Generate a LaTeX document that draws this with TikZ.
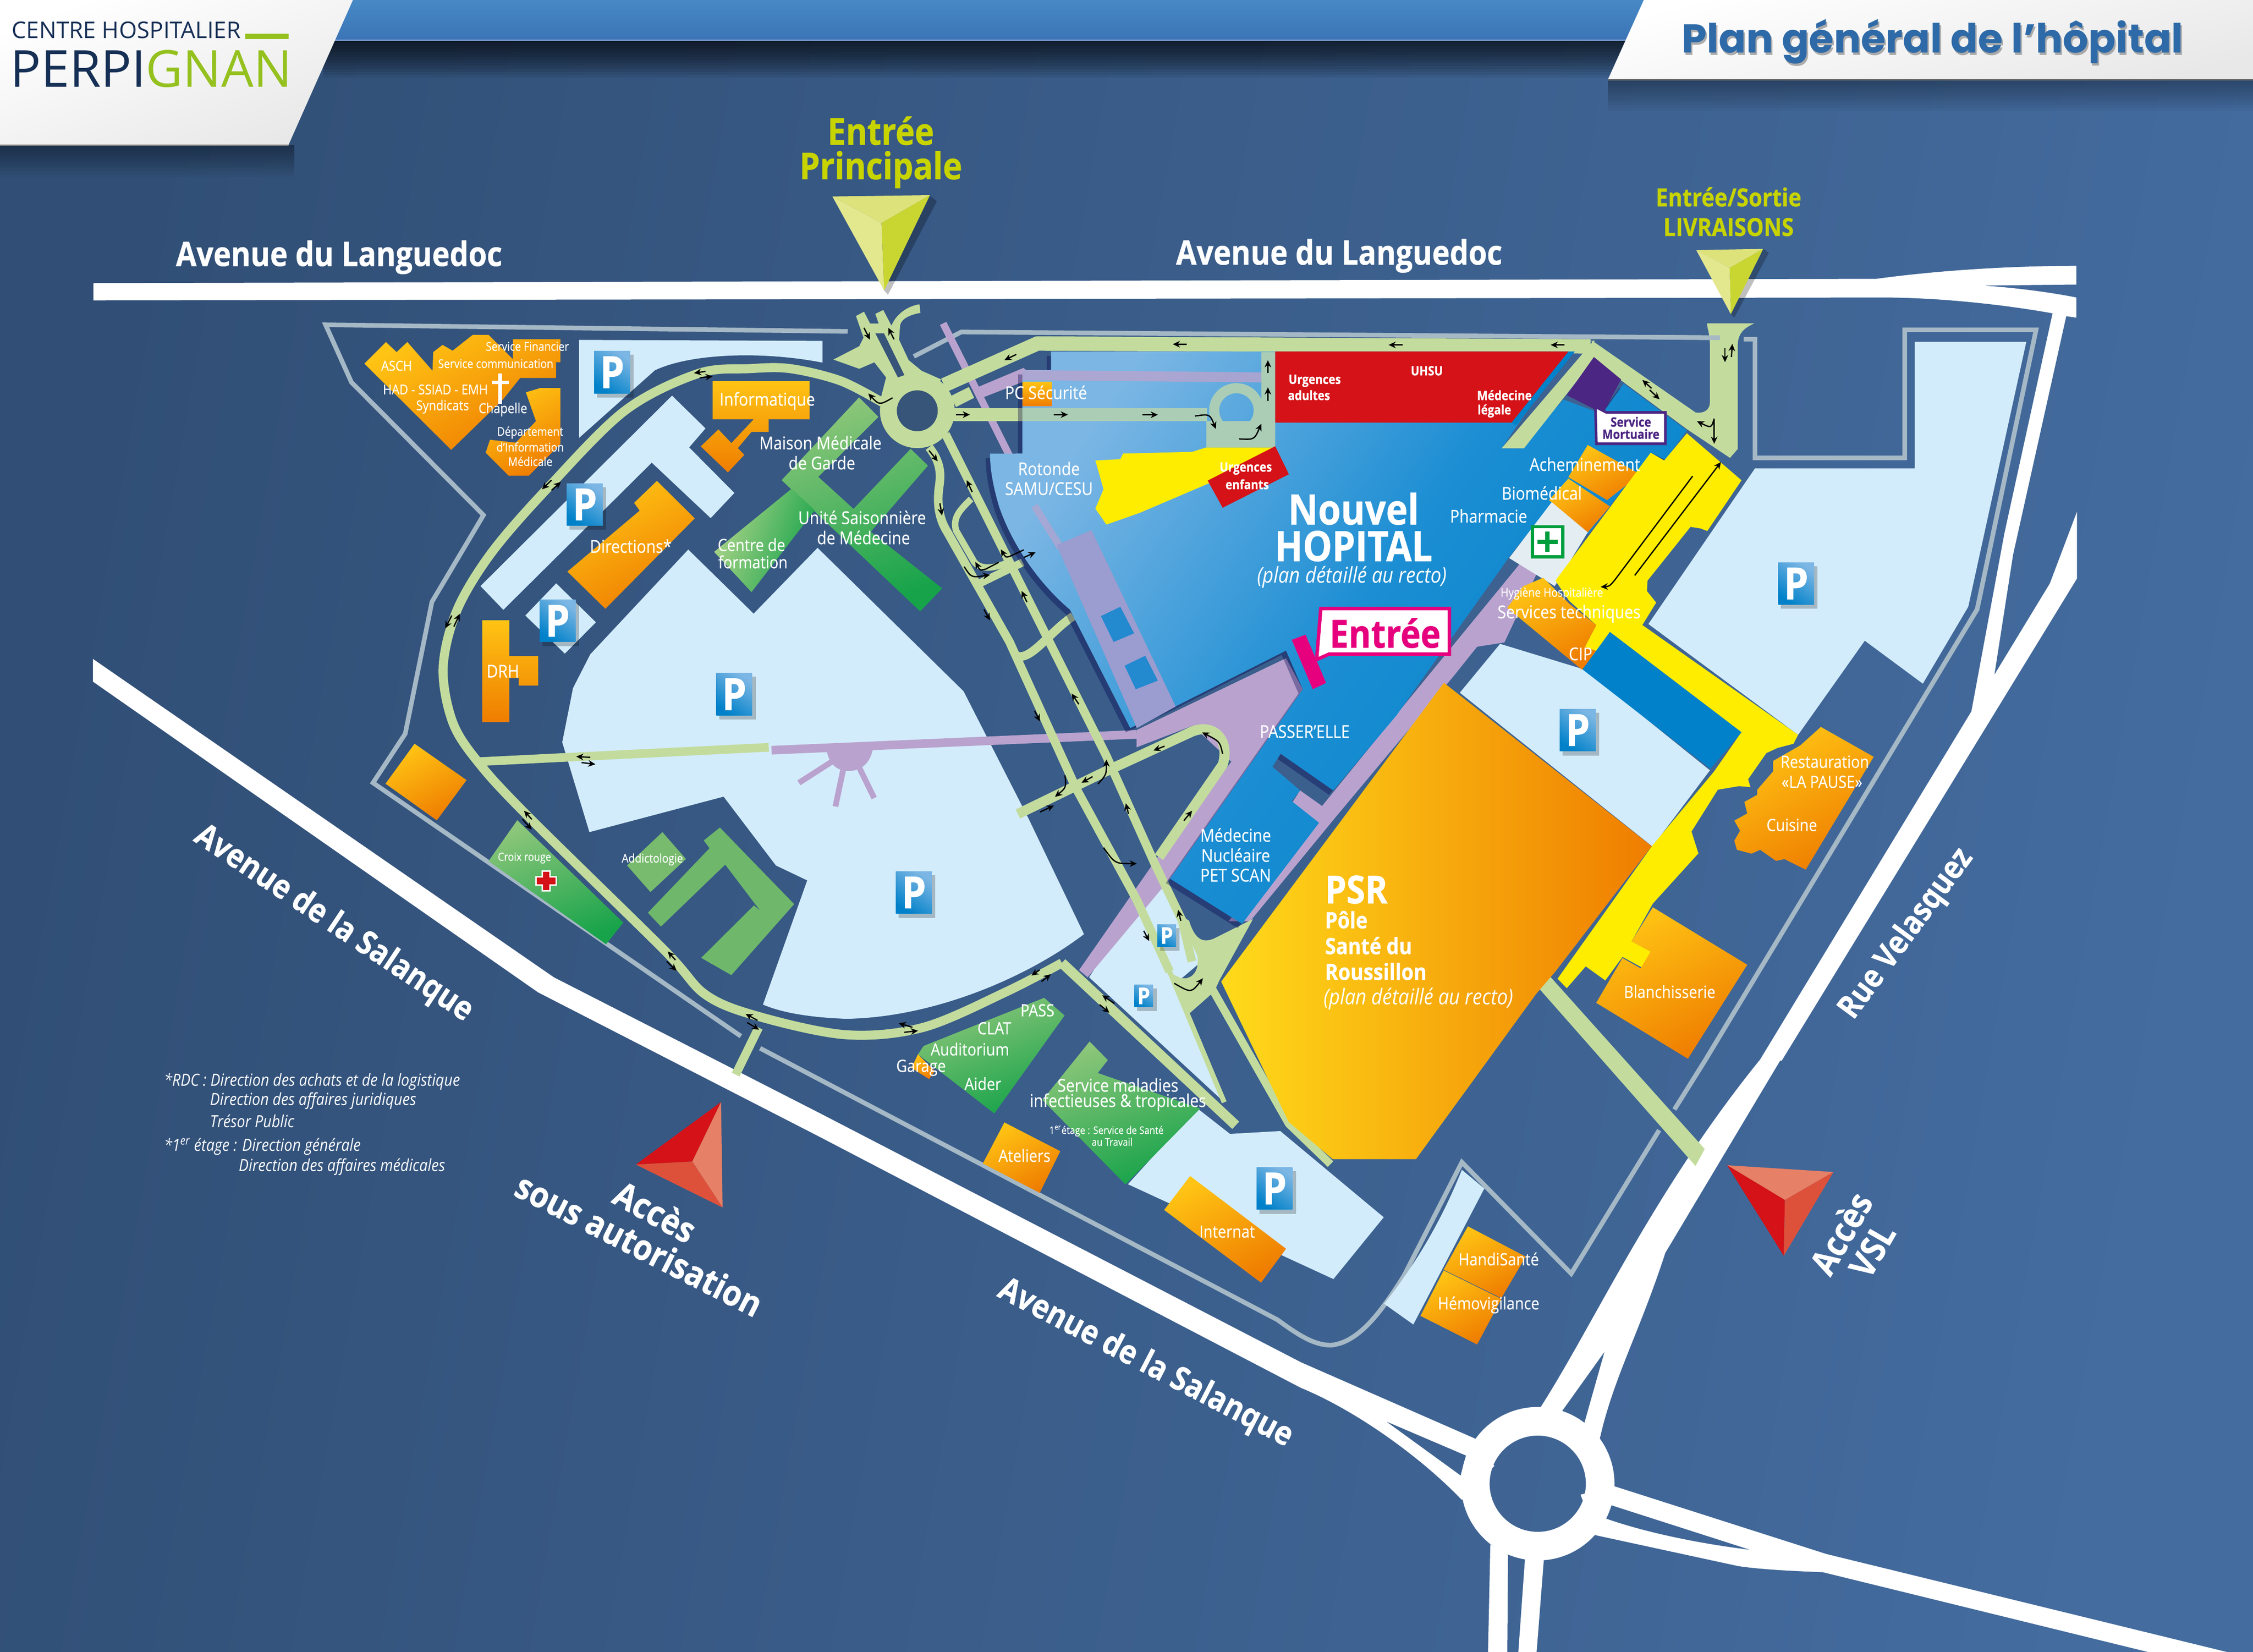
\documentclass[tikz,border=0pt]{standalone}
\usepackage{fontspec}
\setmainfont{Open Sans}[FakeStretch=0.88,UprightFeatures={FakeBold=0.25},BoldFeatures={FakeBold=0.7}]
\newfontfamily\titlefont{Poppins}
\newfontfamily\logofont{Open Sans}
\usetikzlibrary{arrows.meta}
\definecolor{roadg}{HTML}{C3DC9D}
\definecolor{roadh}{HTML}{ABCDB5}
\definecolor{bline}{HTML}{A5B8C5}
\definecolor{park}{HTML}{D3ECFB}
\definecolor{purp}{HTML}{B9A3CE}
\definecolor{orT}{HTML}{FFC414}
\definecolor{orB}{HTML}{EF7D00}
\definecolor{grT}{HTML}{8CC67A}
\definecolor{grB}{HTML}{17A34A}
\definecolor{bluB}{HTML}{0081C9}
\definecolor{bluT}{HTML}{7BB6E4}
\definecolor{bluM}{HTML}{1C8ED3}
\definecolor{yel}{HTML}{FFED00}
\definecolor{redb}{HTML}{D41217}
\definecolor{redm}{HTML}{DD513B}
\definecolor{redl}{HTML}{E68066}
\definecolor{magn}{HTML}{E6007E}
\definecolor{viol}{HTML}{4C2683}
\definecolor{navy}{HTML}{162F55}
\definecolor{lime}{HTML}{95C11F}
\definecolor{ytxt}{HTML}{C8D400}
\definecolor{ylA}{HTML}{DDE27A}
\definecolor{ylB}{HTML}{E3E78E}
\definecolor{ylC}{HTML}{C9D632}
\definecolor{tblue}{HTML}{2E6AA8}
\definecolor{bgL}{RGB}{49,79,118}
\definecolor{bgR}{RGB}{68,108,159}
\definecolor{barT}{RGB}{70,137,197}
\definecolor{barB}{RGB}{59,116,182}
\definecolor{barL}{RGB}{115,150,200}
\definecolor{slit}{RGB}{55,84,121}
\definecolor{winb}{RGB}{35,138,208}
\definecolor{lav}{RGB}{155,156,207}
\definecolor{psrY}{RGB}{255,219,26}
\definecolor{clight}{RGB}{174,213,138}
\definecolor{addA}{RGB}{120,187,110}
\definecolor{addB}{RGB}{110,183,107}
\definecolor{cgr}{RGB}{0,158,61}
\definecolor{phwhite}{HTML}{E4EEF2}
\tikzset{
  whiteroad/.style={fill=white,even odd rule},
  greyline/.style={draw=bline,line width=3.2pt,line join=miter},
  gr/.style={draw=roadg,line cap=butt,line join=round},
  orange/.style={top color=orT,bottom color=orB,shading angle=28},
  green/.style={top color=grT,bottom color=grB,shading angle=20},
  ar/.style={draw=black,line width=.9pt,-{Stealth[length=5pt,width=4.6pt]}},
  lbl/.style={text=white,inner sep=0pt,align=center},
}
\newcount\nc
\newcommand\lab[5][]{\global\advance\nc by 1 \pgfmathsetmacro\fsz{#2*1.12}\node[lbl,#1] (n\the\nc) at (#3,#4) {\fontsize{\fsz}{\fsz}\selectfont #5};}
\newcommand\Psign[3]{%
  \pgfmathsetmacro\pw{#3/2}\pgfmathsetmacro\ph{#3*.585}\pgfmathsetmacro\ps{#3*1.1}%
  \fill[black,opacity=.22] (#1-\pw+2,#2-\ph+2.5) rectangle (#1+\pw+2.5,#2+\ph+3);
  \path[top color=bluT,bottom color=bluB,shading angle=-35] (#1-\pw,#2-\ph) rectangle (#1+\pw,#2+\ph);
  \lab[font=\bfseries]{\ps}{#1}{#2}{P}%
}
\def\hospath{(731.5,244.6)--(1091,244.6)--(1045,312)--(1057,312)--(1088,278)--(1115,288)--(1130,267)--(1174,299.5)--(1159,320)--(1149,315)--(1105,372)--(1080,350)--(1050,388)--(972,497.6)--(927.9,550)--(891.3,524.5)--(885.5,533.5)--(904.8,550)--(899,557.5)--(918,572.5)--(864.4,642.8)--(814.3,611.4)--(906.7,479.6)--(895,452.7)--(818,491.6)--(786.6,506.6)--(744.7,424.3) .. controls (722,405) and (704,378) .. (695.3,352.4) .. controls (691,338) and (689,326) .. (689,315.7)--(711.5,315.6)--(711.5,257.5)--(731.5,257.5)--cycle}
\begin{document}
\begin{tikzpicture}[x=1pt,y=-1pt]
\useasboundingbox (0,0) rectangle (1568,1149.5);
\clip (0,0) rectangle (1568,1149.5);
% background
\path[left color=bgL,right color=bgR,shading angle=80] (0,0) rectangle (1568,1149.5);
% top band
\foreach \h in {2,4,...,26} \fill[black,opacity=.07] (225,28) rectangle (1150,28+\h);
\path[top color=barT,bottom color=barB] (225,0) rectangle (1150,28);
\draw[barL,line width=1pt] (225,28) -- (1150,28);
% tab shadows
\foreach \h in {2,4,...,22} {\fill[black,opacity=.035] (0,101) rectangle (205,101+\h); \fill[black,opacity=.03] (1119,55) rectangle (1568,55+\h);}
\path[top color=white,bottom color=black!9,shading angle=20] (0,0)--(245.6,0)--(200.7,101)--(0,101)--cycle;
\path[top color=white,bottom color=black!9,shading angle=15] (1144,0)--(1568,0)--(1568,55.4)--(1119,55.4)--cycle;
\draw[black!55,line width=.9pt] (0,101)--(200.7,101);
\draw[black!55,line width=.9pt] (1119,55.4)--(1568,55.4);
% white roads
\fill[whiteroad] (65,197)--(1306,194) .. controls (1350,188) and (1400,185) .. (1445,185)--(1445,198)--(1380,198.7) .. controls (1400,200) and (1425,203) .. (1445,207)--(1445,221)--(1438,220)--(1401,386)--(1388,469.5)--(1426.6,406)--(1445.5,356)--(1445.5,402.5)--(1240,738)--(1224.5,738)--(1372,495)--(1395,371)--(1428.5,218) .. controls (1395,212) and (1350,207) .. (1310,207)--(65,209)--cycle;
\fill[whiteroad] (1224.5,737.8)--(1239,737.8)--(1159,871.7) .. controls (1140,930) and (1122,960) .. (1112.5,1005)--(1090,1005)--(1072.3,979) .. controls (1110,920) and (1150,830) .. (1224.5,737.8)--cycle (1116.7,940.5)--(1087,982)--(1102.7,990)--cycle;
\fill[whiteroad] (64.7,458.5)--(385.4,680)--(570,774.3)--(905.4,947.9)--(1027,1001.2)--(1040,1020)--(1017.4,1043.7) .. controls (990,1015) and (945,982) .. (905.4,965.7)--(570,790.8)--(374.5,690.5)--(64.7,474.3)--cycle (964.6,989)--(1020.3,1012.8)--(1016.5,1026.7)--cycle;
\fill[whiteroad] (1123,1034)--(1271,1081.3)--(1549.8,1149.5)--(1495,1149.5)--(1268.8,1094)  .. controls (1245,1093) and (1225,1092) .. (1209.7,1089.7)--(1110.4,1068.2)--(1100,1040)--cycle (1120.9,1047.2)--(1218.1,1078.4) .. controls (1190,1075) and (1150,1068) .. (1117.5,1056.6)--cycle;
\fill[white] (1037.2,1074.7)--(1035.6,1149.5)--(1049,1149.5)--(1049.5,1081.8)--cycle;
\fill[white] (1061.3,1085)--(1056.7,1149.5)--(1069.4,1149.5)--(1074.4,1085.7)--cycle;
\fill[white,even odd rule] (1070.2,1032.4) circle [radius=53.4] (1070.2,1032.4) circle [radius=33.5];
% grey boundary
\draw[greyline] (590,230.6)--(226.6,226)--(244.6,266)--(336.5,358.4)--(300.6,418.8)--(282,510.6)--(259.6,544.7)--(515.6,721);
\draw[greyline] (529,729.4)--(889,918.3) .. controls (905,930) and (915,936) .. (926.5,936) .. controls (945,934) and (960,915) .. (977.2,887.5)--(1017.4,808.7)--(1093.5,886.2)--(1154.7,786.4);
\draw[greyline] (1165.3,772)--(1186.7,737.8)--(1376,424)--(1417,229.5)--(1325.6,229.5)--(1325.6,318.6)--(1221.4,318.6)--(1221.4,236)--(1213.5,236);
\draw[greyline] (636,248)--(669,231)--(1197,235);
% parkings
\fill[park] (479,382.4)--(524.5,427)--(569,381.2)--(670.6,481)--(716,570)--(754.4,650) .. controls (715,680) and (650,708) .. (588.9,708.9) .. controls (565,708) and (545,705) .. (531,699)--(561.8,612.6)--(540,602.2)--(503.6,554.3)--(410.2,579)--(391.3,516.5)--(398.8,478.8)--(410.8,455.3)--cycle;
\fill[park] (403,236.5)--(572.4,237.2)--(572.4,252.3) .. controls (530,244) and (480,246) .. (455.7,257.7)--(403,304.7)--cycle;
\fill[park] (467.7,275.3)--(491,298.1)--(479.6,311.3)--(511.1,343)--(494.6,360.5)--(453.6,321.9)--(350.3,424.3)--(334.4,407.8)--cycle;
\fill[park] (387.1,405.9)--(414.7,433)--(393.1,454.8)--(365.6,428.3)--cycle;
\fill[park] (805,608)--(758,680)--(851,766)--(815,680)--(822,681)--(835,670)--(825,640)--cycle;
\fill[park] (833,771)--(856,789)--(891,787)--(963,847)--(928,890)--(785,824)--cycle;
\fill[park] (1332.5,237.9)--(1410.2,237.9)--(1369.8,422.2)--(1338.2,475.7)--(1297.8,445.8)--(1251.4,511.3)--(1147.2,434.2)--(1221.4,325.9)--(1332.5,325.9)--cycle;
\fill[park] (1016,482)--(1044,448)--(1103,466)--(1190,536)--(1150,589)--cycle;
\fill[park] (1017.4,814)--(1033,827)--(983.6,921.6)--(963.3,907.2) .. controls (985,880) and (1003,850) .. (1017.4,814)--cycle;
% purple
\draw[purp,line width=6pt] (537,522)--(791,511);
\fill[purp] (575.4,522.4) .. controls (577,532) and (583,536.5) .. (590.4,536.5) .. controls (600,536.5) and (606,530) .. (607.5,521)--cycle;
\draw[purp,line width=4pt] (582,528)--(556,544.7) (588,530)--(581.4,561.2) (596,530)--(608.4,555.3);
\fill[purp] (791,508)--(895,458)--(906.7,479.6)--(814.3,611.4)--(757,680)--(751,675)--(806,596)--(857,530)--(830,505)--(791,520)--cycle;
\fill[purp] (1058,392)--(1070,398)--(1047,447)--(1028,450)--(1012,470)--(930,568)--(870,641)--(855,641)--(972,497)--cycle;
\draw[purp,line width=5pt] (656.4,225)--(720,352);
\fill[purp] (904.8,550)--(926,565)--(918,574)--(899,559)--cycle;
% green roads
\draw[gr,line width=6.3pt] plot[smooth,tension=.55] coordinates {(614,280) (585,265) (550,256.5) (521.6,256.5) (485.6,260) (434.7,285.9) (380.8,340) (342,384.7) (318,424.7) (308.4,464.7) (315,502.4) (333,530.6) (367.2,567.7) (461.8,660.6) (490.9,692) (527,707) (588.9,720) (642.8,714.8) (700.5,690) (739,670)};
\draw[gr,line width=7pt,line cap=butt] (739,670)--(860,783);
\draw[gr,line width=6pt] (332.7,530)--(535,520);
\draw[gr,line width=6pt] (528,715)--(512,747.7);
\fill[roadg] (595.7,219.9)--(601.3,216.9)--(605.5,225.1)--(611.5,225.1)--(609.2,218.4)--(614.7,215.7)--(620.4,226.6) .. controls (624,218) and (632,213) .. (639.9,211.7)--(640.6,217.7) .. controls (633,219) and (627,222) .. (626.4,226.6)--(625.7,236.4)--(632.4,250.6)--(641.4,258)--(655,264)--(638,290)--(613,277)--(616.7,262.6)--(608.5,252.1)--(598,256.6)--(580,250.2)--(598,240.9)--(601,234.9)--cycle;
\fill[slit] (609.2,231.9)--(615.2,231.9)--(629.4,261)--(624.9,262.6)--cycle;
\draw[roadg,line width=11.8pt] (638.4,285.8) circle [radius=20.1];
\fill[slit] (638.4,285.8) circle [radius=14.2];
\draw[gr,line width=10pt] (657,268)--(722,239)--(1107,241);
\fill[roadg] (661.6,275.6)--(674.3,269.3)--(678,276.8)--(665.3,283.2)--cycle;
\fill[purp] (679,270)--(712.3,256)--(720,262.5)--(683,277)--cycle;
\draw[gr,line width=9pt] (655,288.5)--(711.5,288.5);
\draw[gr,line width=6pt] (658,302)--(770,526)--(803.5,600.6)--(822.7,640.6)--(829.5,669);
\draw[gr,line width=6pt] (646.6,311.2) .. controls (655,322) and (655,330) .. (653.4,340) .. controls (652,352) and (654,362) .. (659.4,370.4)--(702.6,446.7)--(748.9,548.5)--(791.2,626.3)--(814,676);
\draw[gr,line width=3.5pt] (814,676)--(852,767);
\draw[gr,line width=4.5pt] (675.8,347.2) .. controls (668,355) and (663,360) .. (665.3,369)--(678,391) .. controls (682,396) and (690,396) .. (700,392);
\draw[gr,line width=5.5pt] (681,406.3)--(711.7,391.3);
\draw[gr,line width=6pt] (706.5,455.7) .. controls (716,462) and (730,440) .. (746.9,428.7);
\draw[gr,line width=7pt] (708.4,566.4)--(770,536.5)--(829.7,509) .. controls (845,503) and (856,515) .. (851,532)--(806.6,596.4);
\draw[gr,line width=5.5pt] (843,687)--(897,782)--(926,810);
\fill[roadg] (820,636)--(827.5,640.6) .. controls (832,655) and (838,656) .. (845,653)--(872,639.5)--(848.7,682)--(845,690)--(827.5,705.4)--(812,676)--(822,680.6) .. controls (830,682) and (835,675) .. (833.3,665)--cycle;
\fill[roadg] (1073,673)--(1186.4,799.5)--(1180,811.3)--(1066,682)--cycle;
% top-right entry
\fill[roadg] (1107.7,236.8)--(1180,287) .. controls (1186,288) and (1190,285) .. (1190,280)--(1190,240) .. controls (1190,232) and (1188,228) .. (1188,225)--(1221,225) .. controls (1214,228) and (1209.4,232) .. (1209.4,240)--(1209.4,312.4)--(1204,318.6)--(1174,298.6)--(1130,266)--(1109,250)--cycle;
\draw[greyline] (1150,234.6)--(1197,235);
% hospital
\fill[black!70!blue,opacity=.35,shift={(-3,3)}] \hospath;
\path[top color=bluT,bottom color=bluB,middle color=bluM,shading angle=55] \hospath;
% green road over building junction
\fill[roadg] (1109.6,236.5)--(1045,312)--(1060.6,312)--(1108.8,250.6)--cycle;
\fill[bluB] (1091,244.6)--(1096,244.6)--(1055,296)--(1052,294)--cycle;
% transparent roads
\draw[purp,line width=7pt,opacity=.8] (711.5,261)--(877.8,262.6);
\draw[purp,line width=5pt,opacity=.7] (720,352)--(738,381);
\draw[roadh,line width=9pt] (711.5,288.5)--(840,288.5);
\fill[roadh] (839.5,293)--(877.8,293)--(877.8,245)--(887.5,245)--(887.5,311.4)--(839.5,311.4)--cycle;
\fill[roadh,even odd rule] (860.5,285.6) circle [radius=19] (860.5,285.6) circle [radius=12];
\fill[lav] (735.4,379.3)--(759.6,368.9)--(818.2,491.6)--(791.2,506.6)--cycle;
\fill[winb] (766.2,428.7)--(779.7,422.2)--(789.3,440.7)--(775,446.7)--cycle;
\fill[winb] (782.7,463.2)--(797,456.3)--(805.8,473.6)--(790.4,479.6)--cycle;
% PC securite square
\path[top color=orT,bottom color=orB] (711.7,265.6) rectangle (732,282.5);
% red
\fill[redb] (887.5,244.6)--(1091.5,244.6)--(1052,294)--(887.5,294)--cycle;
\fill[yel] (762.3,320.4)--(779.7,319.5)--(781.6,315.6)--(829.7,314.4)--(839.3,311.4)--(887.5,311.4)--(852.8,331.4)--(793.1,356.9)--(770,365)--(762.3,353.9)--(768,340.4)--cycle;
\fill[redb] (887.5,310.5)--(897,330)--(850.9,353.3)--(840.5,334.4)--cycle;
% violet diamond
\fill[viol] (1109.3,248.4)--(1128.2,264)--(1115.6,287.7)--(1090.4,275)--cycle;
% orange building group right
\path[orange] (1105,309.6)--(1141.6,330)--(1118.5,348)--(1091.5,332)--cycle;
\path[orange] (1091.5,333)--(1120.4,352.4)--(1105,370.4)--(1078,348)--cycle;
\fill[phwhite] (1079.9,349.4)--(1105,370.4)--(1082,407.8)--(1050.3,388.3)--cycle;
% yellow
\path[fill=yel] (1174,301.5)--(1212,334.2)--(1188.2,369.5)--(1183.5,367.7)--(1176.5,366.6)--(1146.6,404)--(1146.2,411.3)--(1152.6,419.3)--(1143,434.9)--(1251.4,511.3)--(1248.2,517.5)--(1237.2,520.4)--(1229.3,524)--(1216.6,542.2)--(1218.2,547.7)--(1210.3,547)--(1195.5,549.5)--(1177.2,578.6)--(1182,593.8)--(1150.3,628.7)--(1135.5,655)--(1148.8,662.1)--(1142.5,673.1)--(1129.2,665.8)--(1117.2,682.2)--(1103.6,672.4)--(1090.4,687.6)--(1084,681)--(1149.7,588.7)--(1193,536.7)--(1211.9,509.5)--(1120.4,439.7)--(1110.9,453.1)--(1102.4,451.3)--(1110.9,434.9)--(1092,418)--(1082.5,404)--(1148.8,315)--(1158.2,320.4)--cycle;
% services techniques
\path[orange] (1074,402)--(1092,420)--(1111,435)--(1103,450)--(1111,453)--(1101,466)--(1049,423)--(1060,408)--cycle;
\fill[bluB] (1120.4,439.7)--(1212,509.5)--(1190.4,534.9)--(1101.4,465.8)--cycle;
% PSR
\path[left color=psrY,right color=orB] (1004.9,475.1)--(1149.5,588.8)--(1082.5,676)--(1069.3,691.3)--(985.4,806.6)--(927.6,806.6)--(896.9,780.7)--(849.9,683)--cycle;
% orange small
\path[orange] (253.6,253)--(268.6,238)--(276,245)--(283.5,238)--(301,258)--(301.5,245)--(308,240)--(315,244)--(329,233)--(340,233)--(357,250)--(357,236)--(390,236)--(390,252)--(387,252)--(387,263)--(362,263)--(350,278)--(314,313)--cycle;
\path[orange] (376,270)--(390,270)--(390,309)--(368,331)--(354,331)--(338,315)--(341,306)--(359,308)--(373,293)--(366,273)--cycle;
\draw[white,line width=2.5pt] (348,260)--(348,281) (342.5,266)--(354,266);
\path[top color=orT,bottom color=orB] (496,265.2)--(563.5,265.2)--(563.5,291.8)--(535,291.8)--(535,300.5)--(523,300.5)--(513.5,311.8)--(518,316.5)--(506.6,328.7)--(487.7,310.6)--(500,298.8)--(509,308.3)--(524.5,291.8)--(496,291.8)--cycle;
\path[orange] (457.2,334.6)--(483.5,360.7)--(421.3,423.6)--(394.9,397.7)--(445.2,355.3)--(441.3,349.9)--cycle;
\path[top color=orT,bottom color=orB] (335.6,431.6)--(354.5,431.6)--(354.5,456.5)--(374.5,456.5)--(374.5,477)--(361,477)--(361,471.8)--(354.5,471.8)--(354.5,502.4)--(335.6,502.4)--cycle;
\path[orange] (288.5,517.5)--(324.7,542.8)--(304,570.8)--(268.3,545.3)--cycle;
\path[orange] (699,781)--(737.9,801)--(723.6,830)--(684,809.6)--cycle;
\path[orange] (828.3,818.3)--(895,868.9)--(877.6,892.5)--(810.2,841.9)--cycle;
\path[orange] (1021.6,853.3)--(1061.8,874.4)--(1044.9,903.2)--(1004.7,883.5)--cycle;
\path[orange] (1004.7,884)--(1044.9,903.8)--(1028,935.5)--(988.6,915.6)--cycle;
\path[orange] (1267.2,505.8)--(1304,526.6)--(1256.7,605.1)--(1241.9,597.8)--(1236,599)--(1225,591.3)--(1219,594)--(1208.8,591.3)--(1207,585)--(1211,578)--(1207,571)--(1216,566)--(1214,558)--(1223,553)--(1223,549.5)--(1234,536.7)--(1234,529.5)--(1253,518.6)--cycle;
\path[orange] (1150.3,631.3)--(1216,671.3)--(1174.7,736.7)--(1110.9,697.8)--(1129.2,666.6)--(1141.8,673.8)--(1148.8,662.1)--(1135.5,655)--cycle;
% greens
\path[green] (597.9,276.5)--(611.4,290.1)--(569.5,331.8)--(594,354.1)--(633.8,312.3)--(645.8,324)--(606,370)--(655.7,409.4)--(640.4,425.4)--(544,334.1)--cycle;
\path[left color=clight,right color=grB,shading angle=70] (551,340)--(567,355)--(523,412)--(497,384)--cycle;
\path[green] (726.7,694.3)--(740.9,706.6)--(692,774.8)--(638.9,733.6)--(642.8,727.8)--cycle;
\path[orange] (638.9,733.6)--(650.5,745.4)--(646.6,750.8)--(634.3,743)--cycle;
\path[green] (758.3,724.7)--(771,737.6)--(764,746.6)--(835.3,771.3)--(783.3,824.2)--(725.5,765.4)--cycle;
\path[green] (360,570.7)--(433.8,642)--(421.8,657)--(340,599.2)--cycle;
\fill[addA] (461,579)--(477.4,597.7)--(452.7,620.7)--(436.4,602.2)--cycle;
\fill[addB] (501,575.8)--(552.7,629.1)--(509,678.5)--(488,666.5)--(524.7,630)--(529,633.6)--(504.7,601.6)--(460,644.7)--(450.9,635.1)--(493.8,590.2)--(489.8,584.8)--cycle;
% croix rouge
\draw[white,line width=6.5pt] (380,605.5)--(380,620.5) (372.5,613)--(387.5,613);
\draw[redb,line width=4.5pt] (380,606.5)--(380,619.5) (373.5,613)--(386.5,613);
% hygiene cross
\draw[cgr,fill=white,line width=2.3pt] (1066.5,366.5) rectangle (1087.6,387.4);
\draw[cgr,line width=3pt] (1077,370)--(1077,384) (1070,377)--(1084,377);
% Entree tag
\fill[magn] (899,445.2)--(908.6,441.6)--(922.9,475.2)--(913.6,479.6)--cycle;
\draw[magn,fill=white,line width=2.4pt,line join=miter] (919.2,423.4)--(1008.7,423.4)--(1008.7,455.1)--(925,455.1)--(916.3,459)--cycle;
\lab[font=\bfseries,text=magn]{24}{964}{440.5}{Entrée}
% Mortuaire tag
\draw[viol,fill=white,line width=1.8pt,line join=miter] (1110.3,283)--(1118,287)--(1159,287)--(1159,308.8)--(1111,308.8)--cycle;
\lab[font=\bfseries,text=viol]{8}{1135}{293.5}{Service}
\lab[font=\bfseries,text=viol]{8}{1135}{302}{Mortuaire}
% Arrows straight
\foreach \a/\b/\c/\d in {491/258.4/483/259.6,487/262.9/496/261.9,383.8/334.1/377.2/340.5,383.8/341.2/390.4/335.3,314.4/428.3/309.9/437.2,315.9/436/320/427.1,410.8/527/401/526.4,404.8/530.6/414.4/531.8,370.1/570.1/364.7/564.1,363.6/570/370.1/577.3,470.1/668/464.7/662,464/669/470.9/675.5,527.2/710/518.9/705.5,520/711.5/528.3/716.5,635/714.8/625.4/712,629.3/718.3/638.9/717.2,723.6/674.8/717.8/678.8,724.8/683/731.3/677.9,775.6/698.3/767.1/692.5,765.2/699/772.1/704.7,601.3/228.1/605.5/236.4,622.2/236.1/618.2/228.1,707.3/246.6/699/250.6,665.3/288.5/675/288.5,733.5/288.5/743.2/288.5,795/288.6/805.8/288.6,825.9/239.5/816.2/239.5,976/240/966.4/240,1088.8/240/1079.2/240,882.4/259.6/882.4/250.6,882.4/279/882.4/269.5,646.6/313.5/652.6/321,654.1/350.2/655.6/358.7,676.6/342.4/672.8/334.1,712.5/387.9/720.7/384.3,714.7/419/711/411.2,684.8/424/689/431.7,720/494.6/723.8/502,750.8/490/745.8/482.6,810.5/519.2/802.7/522.2,760.4/540.4/752.7/544.6,723.8/565/733.5/560.5,785.4/566.4/783.5/559,823.9/571/829.7/564.1,821.8/640.7/819.9/633.1,796/647.7/799.8/654.8,1149.4/270.2/1143/264.4,1148.1/271.3/1155/277.9,1200.5/242.2/1200.5/252,1205/248.4/1205.6/239.3,1193/291.3/1193/308.8,1137.7/400.4/1197.7/321.5}
  \draw[ar] (\a,\b)--(\c,\d);
% Arrows curved
\draw[ar] (621.2,276.8) .. controls (612,282) .. (604.3,273.8);
\draw[ar] (831.6,289.5) .. controls (842,288) .. (846.2,298.5);
\draw[ar] (862.4,305.4) .. controls (873,306) .. (877.8,294.9);
\draw[ar] (712.5,382.6)--(703,387) .. controls (700,388) .. (696.5,382.3);
\draw[ar] (695,391.3)--(686,396) .. controls (682,397) .. (678.8,391);
\draw[ar] (671,394.3) .. controls (676,402) .. (689,400);
\draw[ar] (850.9,524.6) .. controls (849,516) .. (836.6,509.6);
\draw[ar] (764.2,545.5) .. controls (770,539) .. (770,528.5);
\draw[ar] (741.2,539.5) .. controls (742,548) .. (734.2,554.5);
\draw[ar] (768,589.8) .. controls (776,601) .. (791.2,600.9);
\draw[ar] (817.2,684.2) .. controls (829,691) .. (837.2,680.7);
\draw[ar] (1193,291.3) .. controls (1191,298) .. (1181,293.1);
\draw[ar] (1178,331.3)--(1123.5,404) .. controls (1120,408) .. (1114,408.4);
% P signs
\Psign{426}{259}{25}
\Psign{407}{351}{25}
\Psign{388}{432}{25}
\Psign{511}{483}{25}
\Psign{636}{621}{25}
\Psign{887}{827}{25}
\Psign{1250}{406}{25}
\Psign{1098}{508}{25}
\Psign{812}{651}{13}
\Psign{796}{693}{13}
% pyramids
\fill[black,opacity=.25] (647,136)--(652,140)--(618,205)--(615.3,202.1)--cycle;
\fill[ylA] (579.3,136.7)--(647.2,135.8)--(613.5,155.2)--cycle;
\fill[ylB] (579.3,136.7)--(613.5,155.2)--(615.3,202.1)--cycle;
\fill[ylC] (647.2,135.8)--(613.5,155.2)--(615.3,202.1)--cycle;
\fill[black,opacity=.25] (1227,173)--(1231,176)--(1207,221)--(1204.6,218.6)--cycle;
\fill[ylA] (1180.5,174)--(1227.1,173.2)--(1203.8,186.4)--cycle;
\fill[ylB] (1180.5,174)--(1203.8,186.4)--(1204.6,218.6)--cycle;
\fill[ylC] (1227.1,173.2)--(1203.8,186.4)--(1204.6,218.6)--cycle;
\fill[redb] (442.5,810.3)--(501.8,766.8)--(481.8,808.2)--cycle;
\fill[redl] (501.8,766.8)--(502.9,840.2)--(481.8,808.2)--cycle;
\fill[redm] (442.5,810.3)--(481.8,808.2)--(502.9,840.2)--cycle;
\fill[redl] (1202,810.8)--(1276,815.5)--(1242.2,835)--cycle;
\fill[redb] (1202,810.8)--(1242.2,835)--(1241.4,873.8)--cycle;
\fill[redm] (1276,815.5)--(1242.2,835)--(1241.4,873.8)--cycle;
% Titles
\node[inner sep=0pt,text=black!45,opacity=.7] (titleshadow) at (1346,30.5) {\titlefont\fontsize{28}{28}\selectfont\bfseries Plan général de l’hôpital};
\node[inner sep=0pt,text=tblue] (title) at (1345,29) {\titlefont\fontsize{28}{28}\selectfont\bfseries Plan général de l’hôpital};
\node[inner sep=0pt,anchor=base west,text=navy] (logoA) at (8,26.5) {\logofont\fontsize{16}{16}\selectfont CENTRE HOSPITALIER};
\fill[lime] (170.7,23.5) rectangle (200.7,27);
\node[inner sep=0pt,anchor=base west,text=navy] (logoB) at (7,60.5) {\logofont\fontsize{35.5}{35.5}\selectfont PERPI\textcolor{lime}{GNAN}};
% road labels
\lab[font=\bfseries]{21}{236}{179}{Avenue du Languedoc}
\lab[font=\bfseries]{21}{932}{178}{Avenue du Languedoc}
\lab[font=\bfseries,rotate=-33.7]{20.5}{232}{643}{Avenue de la Salanque}
\lab[font=\bfseries,rotate=-27.5]{20.5}{797}{949}{Avenue de la Salanque}
\lab[font=\bfseries,rotate=53.6]{20}{1327}{650}{Rue Velasquez}
\lab[font=\bfseries,rotate=-29]{22}{456}{843}{Accès}
\lab[font=\bfseries,rotate=-27]{22}{445}{866}{sous autorisation}
\lab[font=\bfseries,rotate=60]{22}{1281}{858}{Accès}
\lab[font=\bfseries,rotate=60]{22}{1303}{870}{VSL}
\lab[font=\bfseries,text=ytxt]{23}{613}{91}{Entrée}
\lab[font=\bfseries,text=ytxt]{23}{613}{118}{Principale}
\lab[font=\bfseries,text=ytxt]{15.5}{1203}{137}{Entrée/Sortie}
\lab[font=\bfseries,text=ytxt]{15.5}{1203}{158}{LIVRAISONS}
% building labels
\lab{8.5}{276}{254.5}{ASCH}
\lab{7.5}{367}{241}{Service Financier}
\lab{7.5}{345}{253}{Service communication}
\lab{8.5}{303}{271}{HAD - SSIAD - EMH}
\lab{8.5}{308}{283}{Syndicats}
\lab{8.5}{350}{285}{Chapelle}
\lab{7.5}{369}{301}{Département}
\lab{7.5}{369}{311}{d’Information}
\lab{7.5}{369}{321}{Médicale}
\lab{11}{534}{279}{Informatique}
\lab{11}{571}{308}{Maison Médicale}
\lab{11}{572}{322}{de Garde}
\lab{11}{600}{360}{Unité Saisonnière}
\lab{11}{601}{374}{de Médecine}
\lab{10.5}{523}{379}{Centre de}
\lab{10.5}{524}{391}{formation}
\lab{11}{439}{380}{Directions*}
\lab{11}{350}{467}{DRH}
\lab{11}{728}{273}{PC Sécurité}
\lab{11}{730}{326}{Rotonde}
\lab{11}{730}{340}{SAMU/CESU}
\lab[font=\bfseries]{8}{915}{265}{Urgences}
\lab[font=\bfseries]{8}{911}{275}{adultes}
\lab[font=\bfseries]{8}{993}{258}{UHSU}
\lab[font=\bfseries]{8}{1047}{275}{Médecine}
\lab[font=\bfseries]{8}{1040}{286}{légale}
\lab[font=\bfseries]{8}{867}{326}{Urgences}
\lab[font=\bfseries]{8}{868}{337}{enfants}
\lab{11}{1103}{323}{Acheminement}
\lab{11}{1073}{343}{Biomédical}
\lab{11}{1036}{359}{Pharmacie}
\lab{7.5}{1080}{413}{Hygiène Hospitalière}
\lab{11}{1092}{427}{Services techniques}
\lab{11}{1100}{455}{CIP}
\lab[font=\bfseries]{26}{942}{354}{Nouvel}
\lab[font=\bfseries]{26}{942}{380}{HOPITAL}
\lab[font=\itshape]{13.5}{941}{401.5}{(plan détaillé au recto)}
\lab{11}{908}{509}{PASSER’ELLE}
\lab{11}{860}{581}{Médecine}
\lab{11}{860}{595}{Nucléaire}
\lab{11}{860}{609}{PET SCAN}
\lab[font=\bfseries,anchor=west]{24}{922}{619}{PSR}
\lab[font=\bfseries,anchor=west]{14}{922}{640}{Pôle}
\lab[font=\bfseries,anchor=west]{14}{922}{658}{Santé du}
\lab[font=\bfseries,anchor=west]{14}{922}{676}{Roussillon}
\lab[font=\itshape,anchor=west]{13.5}{921}{695}{(plan détaillé au recto)}
\lab{10.5}{1270}{530}{Restauration}
\lab{10.5}{1268}{544}{«LA PAUSE»}
\lab{10.5}{1247}{574}{Cuisine}
\lab{10.5}{1162}{690}{Blanchisserie}
\lab{10.5}{1043}{876}{HandiSanté}
\lab{10.5}{1036}{908}{Hémovigilance}
\lab{10.5}{854}{857}{Internat}
\lab{10.5}{713}{804}{Ateliers}
\lab{11}{778}{755}{Service maladies}
\lab{11}{778}{767}{infectieuses \& tropicales}
\lab{6.5}{770}{787}{1\textsuperscript{er}étage : Service de Santé}
\lab{6.5}{774}{794.5}{au Travail}
\lab{10.5}{722}{703}{PASS}
\lab{10.5}{692}{715.5}{CLAT}
\lab{10.5}{675}{730}{Auditorium}
\lab{10.5}{641}{743}{Garage}
\lab{10.5}{684}{754}{Aider}
\lab{7}{365}{597}{Croix rouge}
\lab{7.5}{454}{598}{Addictologie}
% notes
\lab[font=\itshape,anchor=west]{10.4}{114}{752.5}{*RDC : Direction des achats et de la logistique}
\lab[font=\itshape,anchor=west]{10.4}{146}{766}{Direction des affaires juridiques}
\lab[font=\itshape,anchor=west]{10.4}{146}{780}{Trésor Public}
\lab[font=\itshape,anchor=west]{10.4}{114}{798}{*1\textsuperscript{er} étage : Direction générale}
\lab[font=\itshape,anchor=west]{10.4}{166}{812}{Direction des affaires médicales}
\end{tikzpicture}
\end{document}
